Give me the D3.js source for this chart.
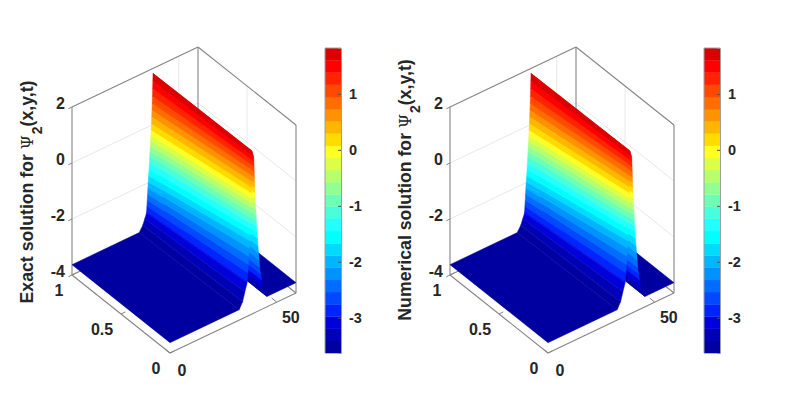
<!DOCTYPE html>
<html><head><meta charset="utf-8">
<style>html,body{margin:0;padding:0;background:#fff}svg{display:block}text{font-family:"Liberation Sans",Arial,sans-serif;font-weight:700;fill:#262626}</style>
<script src="https://cdn.jsdelivr.net/npm/d3@7"></script></head><body>
<svg id="c" width="798" height="394"></svg>
<script>
const titles = ["Exact solution for ", "Numerical solution for "];
const zTicks = [2, 0, -2, -4];
const tTicks = [1, 0.5, 0];
const tTickLabels = ["1", "0.5", "0"];
const xTicks = [0, 50];
const cbTicks = [1, 0, -1, -2, -3];
const jetColors = ["#0000a0","#0000b6","#0000db","#0024ff","#0049ff","#006dff","#0092ff","#00b6ff","#00dbff","#00ffff","#24ffff","#49ffdb","#6dffb6","#92ff92","#b6ff6d","#dbff49","#ffff24","#ffdb00","#ffb600","#ff9200","#ff6d00","#ff4900","#ff2400","#ff0000","#db0000"];
const surfaceLevel = [-3.63,-3.63,-3.4,-3,-2,-1.55,-1,0,1,1.82,1.6,0,-1.55,-2.6,-3.4,-3.63,-3.63];
const surfaceXT0 = [0,32.4,34,36.1,37.3,37.7,37.85,38.05,38.25,38.4,39.2,39.8,40.8,42.1,43.8,45.4,59];
const surfaceZT0 = [-3.63,-3.63,-3.4,-2.8,-1.49,-1.05,-0.55,0.25,1.2,1.82,1.58,0.21,-1.25,-2.56,-3.4,-3.63,-3.63];
const surfaceXT1 = [0,31.5,33.2,34.9,35.6,36,36.4,37,37.6,37.95,38.9,39.6,40.7,42.1,43.8,45.4,59];
const surfaceZT1 = [-3.63,-3.63,-3.42,-3.05,-2.1,-1.66,-1.1,-0.27,0.8,1.82,1.58,0.21,-1.25,-2.56,-3.4,-3.63,-3.63];
const zMin = -3.63, zMax = 1.82;

const svg = d3.select("#c");
const xDx = d3.scaleLinear().domain([0,59]).range([0,126]);
const xDy = d3.scaleLinear().domain([0,59]).range([0,-60]);
const tDx = d3.scaleLinear().domain([0,1]).range([0,-98]);
const tDy = d3.scaleLinear().domain([0,1]).range([0,-78]);
const zDy = d3.scaleLinear().domain([-4,2]).range([0,-168]);
const bandScale = d3.scaleQuantize().domain([zMin,zMax]).range(jetColors);
const bandEdges = d3.range(1,jetColors.length).map(i=>zMin+i*(zMax-zMin)/jetColors.length);
const line = d3.line();

function panel(ox, title, titleY, cbX){
  const g = svg.append("g").attr("transform",`translate(${ox},0)`);
  const P = (x,t,z)=>[170+xDx(x)+tDx(t), 353+xDy(x)+tDy(t)+zDy(z)];
  const seg=(a,b,col,w)=>g.append("path").attr("d",line([a,b])).attr("stroke",col).attr("stroke-width",w).attr("fill","none");
  const grid="#e8e8e8", edge="#858585";
  zTicks.slice(1,3).forEach(z=>{
    seg(P(0,1,z),P(59,1,z),grid,1);seg(P(59,1,z),P(59,0,z),grid,1);
  });
  seg(P(50,1,-4),P(50,1,2),grid,1);
  seg(P(59,0.5,-4),P(59,0.5,2),grid,1);
  seg(P(50,0,-4),P(50,1,-4),grid,1);
  [[[0,1,2],[59,1,2]],[[59,1,2],[59,0,2]],[[0,1,2],[0,1,-4]],[[59,0,2],[59,0,-4]],[[59,1,2],[59,1,-4]],
   [[0,1,-4],[0,0,-4]],[[0,0,-4],[59,0,-4]],[[0,1,-4],[59,1,-4]],[[59,1,-4],[59,0,-4]]].forEach(e=>seg(P(...e[0]),P(...e[1]),edge,1.1));
  zTicks.forEach(z=>seg(P(0,1,z),P(-1.7,1,z),edge,1));
  tTicks.forEach(t=>seg(P(0,t,-4),P(2,t,-4),edge,1));
  xTicks.forEach(x=>seg(P(x,0,-4),P(x,0.05,-4),edge,1));
  for(let i=surfaceLevel.length-2;i>=0;i--){
    const ca=surfaceLevel[i], cb=surfaceLevel[i+1];
    const lo=Math.min(ca,cb), hi=Math.max(ca,cb);
    let stops=[0,1];
    if(ca!==cb) bandEdges.forEach(e=>{ if(e>lo && e<hi) stops.push((e-ca)/(cb-ca)); });
    stops.sort((a,b)=>b-a);
    for(let k=0;k<stops.length-1;k++){
      const s1=stops[k], s0=stops[k+1];
      const at=(arr,s)=>arr[i]+s*(arr[i+1]-arr[i]);
      const col=bandScale(Math.max(zMin,at(surfaceLevel,(s0+s1)/2)));
      g.append("path").attr("d",line([
          P(at(surfaceXT0,s0),0,at(surfaceZT0,s0)),P(at(surfaceXT0,s1),0,at(surfaceZT0,s1)),
          P(at(surfaceXT1,s1),1,at(surfaceZT1,s1)),P(at(surfaceXT1,s0),1,at(surfaceZT1,s0))])+"Z")
       .attr("fill",col).attr("stroke",col).attr("stroke-width",0.5).attr("stroke-linejoin","round");
    }
  }
  const lab=(x,y,s,a,fs)=>g.append("text").attr("x",x).attr("y",y).attr("text-anchor",a||"middle").attr("font-size",fs||16).attr("dominant-baseline","central").text(s);
  zTicks.forEach(z=>{const p=P(0,1,z);lab(p[0]-7,p[1]-3.5,String(z),"end");});
  tTicks.forEach((t,i)=>{const p=P(0,t,-4);lab(p[0]+[-13,-19,-14][i],p[1]+15,tTickLabels[i]);});
  xTicks.forEach(x=>{const p=P(x,0,-4);lab(p[0]+(x?14:12),p[1]+(x?15:17),String(x));});
  const tt=g.append("text").attr("transform",`translate(33,${titleY}) rotate(-90)`).attr("text-anchor","middle").attr("font-size",17.7);
  tt.append("tspan").text(title);
  tt.append("tspan").style("font-family","'DejaVu Serif','Liberation Serif',serif").style("font-weight","400").attr("font-size",16).text("Ψ");
  tt.append("tspan").attr("dy",9).attr("font-size",14).attr("dx",1).text("2");
  tt.append("tspan").attr("dy",-9).text("(x,y,t)");
  const cbY=d3.scaleLinear().domain([zMin,zMax]).range([353,48]);
  const cbar=svg.append("g").attr("transform",`translate(${cbX},0)`);
  cbar.selectAll("rect").data(jetColors).join("rect").attr("x",0).attr("width",16)
    .attr("y",(d,i)=>cbY(zMin+(i+1)*(zMax-zMin)/jetColors.length))
    .attr("height",cbY(zMin)-cbY(zMin+(zMax-zMin)/jetColors.length)+0.3).attr("fill",d=>d);
  const ax=d3.axisRight(cbY).tickValues(cbTicks).tickSize(-3).tickPadding(8).tickFormat(d=>String(d));
  const ag=cbar.append("g").attr("transform","translate(16,0)").call(ax);
  ag.select(".domain").attr("stroke",edge).attr("stroke-width",0.8);
  ag.selectAll("line").attr("stroke","#555");
  ag.selectAll("text").attr("font-size",14.5).attr("font-family",null).attr("fill","#262626");
  cbar.append("path").attr("d",line([[0,353],[0,48],[16,48]])).attr("stroke","#a0a0a0").attr("fill","none");
}
panel(0,titles[0],192,325);
panel(378,titles[1],190,704);
</script></body></html>
